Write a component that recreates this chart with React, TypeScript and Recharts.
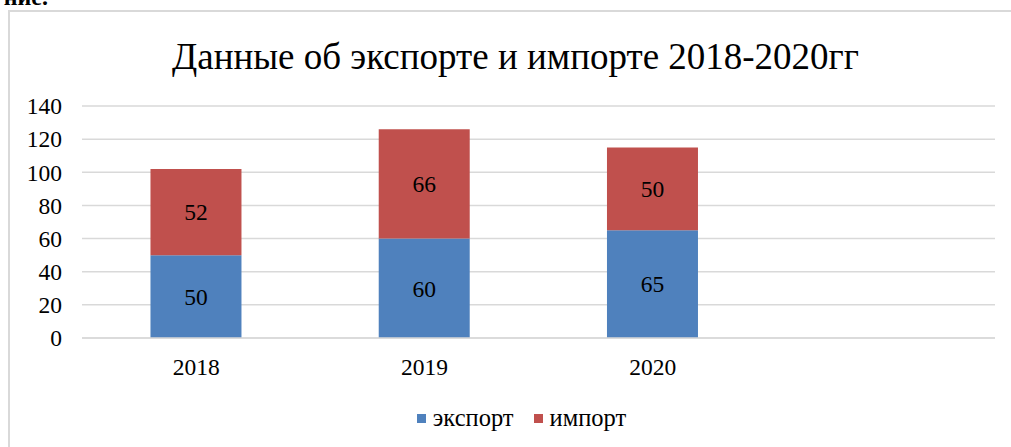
import React from "react";
import { BarChart, Bar, XAxis, YAxis, CartesianGrid, Legend, LabelList } from "recharts";

const categories = ["2018", "2019", "2020", ""];
const exportValues: (number | null)[] = [50, 60, 65, null];
const importValues: (number | null)[] = [52, 66, 50, null];
const yTicks = [0, 20, 40, 60, 80, 100, 120, 140];
const title = "Данные об экспорте и импорте 2018-2020гг";
const seriesNames = ["экспорт", "импорт"];
const seriesColors = ["#4F81BD", "#C0504D"];
const headerFragment = "ние.";

const data = categories.map((c, i) => ({
  name: c,
  exp: exportValues[i],
  imp: importValues[i],
}));

const FONT = '"Liberation Serif"';

const LegendContent = () => (
  <div
    style={{
      height: 20,
      display: "flex",
      justifyContent: "center",
      alignItems: "center",
      fontFamily: FONT,
      fontSize: 24.5,
      color: "#000",
      lineHeight: "20px",
    }}
  >
    {seriesNames.map((n, i) => (
      <div key={n} style={{ display: "flex", alignItems: "center", marginRight: i === 0 ? 20 : 0 }}>
        <span style={{ display: "inline-block", width: 9, height: 9, background: seriesColors[i], marginRight: 7 }} />
        <span>{n}</span>
      </div>
    ))}
  </div>
);

export default function App() {
  return (
    <div
      style={{
        position: "absolute",
        left: 0,
        top: 0,
        width: 1011,
        height: 447,
        overflow: "hidden",
        background: "#fff",
        fontFamily: FONT,
      }}
    >
      <div
        style={{
          position: "absolute",
          left: 0,
          top: -15,
          width: 48,
          textAlign: "right",
          fontSize: 24,
          lineHeight: 1,
          fontWeight: "bold",
          color: "#000",
          whiteSpace: "nowrap",
          fontFamily: FONT,
        }}
      >
        {headerFragment}
      </div>
      <div
        style={{
          position: "absolute",
          left: 8,
          top: 10,
          width: 1011,
          height: 460,
          borderLeft: "2px solid #d9d9d9",
          borderTop: "2px solid #d9d9d9",
        }}
      />
      <div
        style={{
          position: "absolute",
          left: 0,
          top: 35,
          width: 1031,
          textAlign: "center",
          fontSize: 37,
          color: "#000",
          whiteSpace: "nowrap",
          fontFamily: FONT,
        }}
      >
        {title}
      </div>
      <div style={{ position: "absolute", left: 0, top: 0 }}>
        <BarChart
          width={1011}
          height={447}
          data={data}
          margin={{ top: 106, right: 16, left: 0, bottom: 59 }}
          barCategoryGap="30%"
        >
          <CartesianGrid vertical={false} stroke="#d9d9d9" strokeWidth={1.5} />
          <XAxis
            dataKey="name"
            tickLine={false}
            axisLine={{ stroke: "#d9d9d9", strokeWidth: 1.5 }}
            tick={{ fill: "#000", fontSize: 23.5, fontFamily: FONT }}
            tickMargin={14}
            height={30}
          />
          <YAxis
            width={82}
            domain={[0, 140]}
            ticks={yTicks}
            tickLine={false}
            axisLine={false}
            tick={{ fill: "#000", fontSize: 23.5, fontFamily: FONT }}
            tickMargin={14}
            interval={0}
          />
          <Legend
            verticalAlign="bottom"
            align="center"
            content={LegendContent}
            wrapperStyle={{ top: 408, left: 16, width: 1011 }}
          />
          <Bar dataKey="exp" name={seriesNames[0]} stackId="a" fill={seriesColors[0]} isAnimationActive={false}>
            <LabelList dataKey="exp" position="center" fill="#000" fontSize={23.5} fontFamily={FONT} />
          </Bar>
          <Bar dataKey="imp" name={seriesNames[1]} stackId="a" fill={seriesColors[1]} isAnimationActive={false}>
            <LabelList dataKey="imp" position="center" fill="#000" fontSize={23.5} fontFamily={FONT} />
          </Bar>
        </BarChart>
      </div>
    </div>
  );
}
